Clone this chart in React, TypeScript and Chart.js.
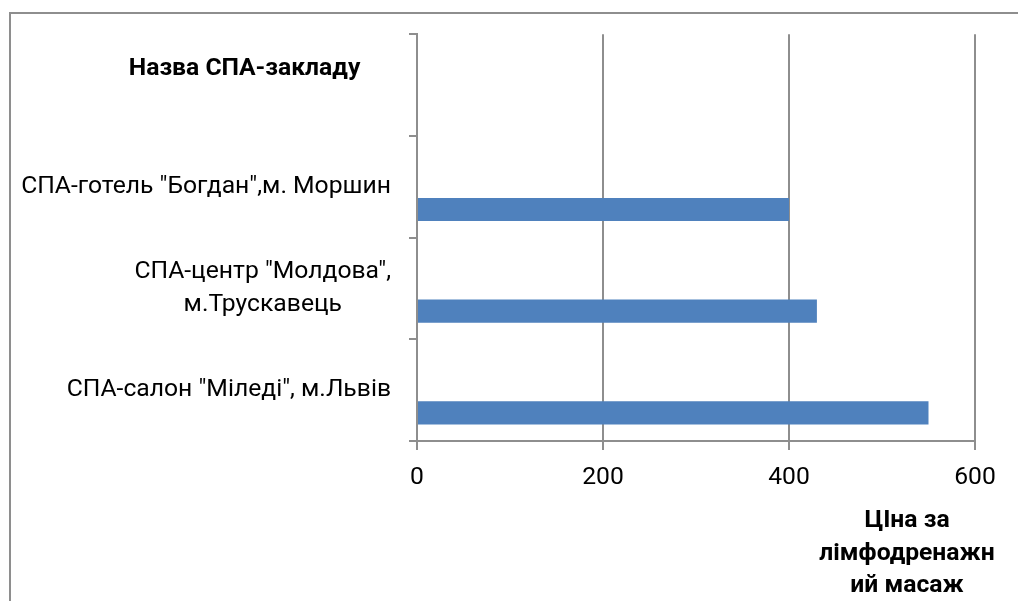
import React, { useEffect, useRef } from "react";
import { Chart, registerables } from "chart.js";

Chart.register(...registerables);

// ---- data ----
const categories = [
  "Назва СПА-закладу",
  "СПА-готель \"Богдан\",м. Моршин",
  "СПА-центр \"Молдова\",\nм.Трускавець",
  "СПА-салон \"Міледі\", м.Львів",
];
const headerSeries: (number | null)[] = [null, null, null, null];
const priceSeries: (number | null)[] = [null, 400, 430, 550];
const xTitleLines = ["ЦІна за", "лімфодренажн", "ий масаж"];
const xMin = 0;
const xMax = 600;
const xStep = 200;

// ---- style ----
const FONT = "Roboto";
const FS = 24.7;
const AXIS = "#8e8e8e";
const BAR = "#4F81BD";

const measureCanvas = document.createElement("canvas");
const mctx = measureCanvas.getContext("2d") as CanvasRenderingContext2D;

function centerLines(lines: string[], font: string): string[] {
  mctx.font = font;
  const widths = lines.map((l) => mctx.measureText(l).width);
  const maxW = Math.max(...widths);
  const sp = mctx.measureText(" ").width;
  return lines.map((l, i) => l + " ".repeat(Math.round((maxW - widths[i]) / 2 / sp)));
}

function tickLabel(i: number): string | string[] {
  const raw = categories[i];
  if (i === 0) {
    mctx.font = `bold ${FS}px ${FONT}`;
    const sp = mctx.measureText(" ").width;
    return [raw + " ".repeat(Math.round(32 / sp)), ""];
  }
  const lines = raw.split("\n");
  if (lines.length === 1) return raw;
  return centerLines(lines, `${FS}px ${FONT}`);
}

const axisTitlePlugin = {
  id: "xAxisTitleBlock",
  afterDraw(chart: any) {
    const { ctx, chartArea } = chart;
    ctx.save();
    ctx.font = `bold ${FS}px ${FONT}`;
    ctx.fillStyle = "#000";
    ctx.textAlign = "center";
    ctx.textBaseline = "alphabetic";
    xTitleLines.forEach((t, i) => {
      ctx.fillText(t, chartArea.right - 68, chartArea.bottom + 86 + i * 32.5);
    });
    ctx.restore();
  },
};

export default function App() {
  const ref = useRef<HTMLCanvasElement>(null);

  useEffect(() => {
    const canvas = ref.current!;
    const chart = new Chart(canvas, {
      type: "bar",
      data: {
        labels: categories,
        datasets: [
          {
            label: "header",
            data: headerSeries,
            backgroundColor: BAR,
            categoryPercentage: 0.892,
            barPercentage: 0.51,
          },
          {
            label: "Ціна",
            data: priceSeries,
            backgroundColor: BAR,
            categoryPercentage: 0.892,
            barPercentage: 0.51,
          },
        ],
      },
      options: {
        indexAxis: "y",
        responsive: false,
        animation: false,
        devicePixelRatio: 1,
        layout: { padding: { left: 0, top: 29, right: 43, bottom: 0 } },
        plugins: {
          legend: { display: false },
          tooltip: { enabled: false },
          title: { display: false },
        },
        scales: {
          x: {
            type: "linear",
            position: "bottom",
            min: xMin,
            max: xMax,
            ticks: {
              stepSize: xStep,
              color: "#000",
              padding: 13,
              font: { family: FONT, size: FS },
            },
            grid: {
              color: AXIS,
              lineWidth: 2,
              drawTicks: true,
              tickLength: 9,
            },
            border: { display: true, color: AXIS, width: 2 },
            afterFit: (s: any) => {
              s.height = 160;
            },
          },
          y: {
            type: "category",
            position: "left",
            offset: true,
            ticks: {
              color: "#000",
              padding: 18,
              autoSkip: false,
              callback: (_v: any, i: number) => tickLabel(i),
              font: (c: any) => ({
                family: FONT,
                size: FS,
                lineHeight: 1.32,
                weight: c.index === 0 ? "bold" : "normal",
              }),
            },
            grid: {
              color: AXIS,
              lineWidth: 2,
              drawOnChartArea: false,
              drawTicks: true,
              tickLength: 8,
              offset: true,
            },
            border: { display: true, color: AXIS, width: 2 },
            afterFit: (s: any) => {
              s.width = 417;
            },
          },
        },
      },
      plugins: [axisTitlePlugin],
    });
    return () => chart.destroy();
  }, []);

  return (
    <div
      style={{
        position: "fixed",
        left: 0,
        top: 0,
        width: 1018,
        height: 601,
        overflow: "hidden",
        background: "#fff",
      }}
    >
      <div
        style={{
          position: "absolute",
          left: 9,
          top: 12,
          width: 1100,
          height: 700,
          border: `2px solid ${AXIS}`,
        }}
      />
      <canvas
        ref={ref}
        width={1018}
        height={601}
        style={{ position: "absolute", left: 0, top: 0, width: 1018, height: 601 }}
      />
    </div>
  );
}
